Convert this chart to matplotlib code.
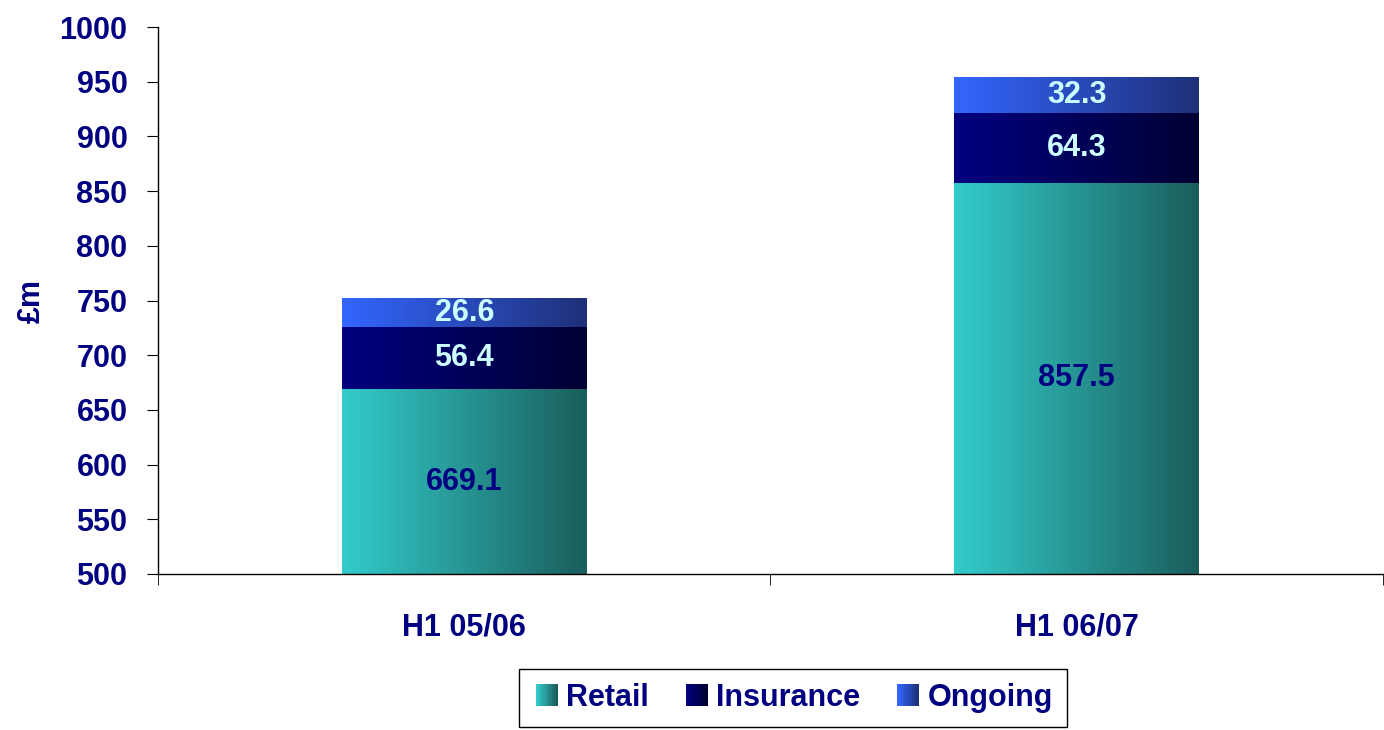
import numpy as np
import matplotlib.pyplot as plt
from matplotlib.colors import LinearSegmentedColormap
from matplotlib.legend_handler import HandlerBase
from matplotlib.patches import Rectangle

plt.rcParams['font.family'] = ['Liberation Sans', 'DejaVu Sans']
plt.rcParams['font.weight'] = 'bold'

periods = ["H1 05/06", "H1 06/07"]
segments = ["Retail", "Insurance", "Ongoing"]
retail = [669.1, 857.5]
insurance = [56.4, 64.3]
ongoing = [26.6, 32.3]

NAVY = "#000080"
# left -> right shading for each segment
gradients = {
    "Retail": ("#33CCCC", "#1A5E5C"),
    "Insurance": ("#000080", "#000033"),
    "Ongoing": ("#3366FF", "#1F3078"),
}
label_colors = {"Retail": NAVY, "Insurance": "#CCFFFF", "Ongoing": "#CCFFFF"}
FS = 22


def gradient_bar(ax, x, bottom, height, width, c0, c1):
    cmap = LinearSegmentedColormap.from_list("g", [c0, c1])
    grad = np.linspace(0, 1, 256).reshape(1, -1)
    extent = (x - width / 2, x + width / 2, bottom, bottom + height)
    im = ax.imshow(grad, cmap=cmap, extent=extent, aspect="auto",
                   interpolation="bilinear", zorder=2)
    rect = Rectangle((x - width / 2, bottom), width, height,
                     transform=ax.transData, fill=False, lw=0)
    ax.add_patch(rect)
    im.set_clip_path(rect)


class GradientHandler(HandlerBase):
    def __init__(self, c0, c1):
        super().__init__()
        self.c0, self.c1 = c0, c1

    def create_artists(self, legend, orig_handle, xdescent, ydescent,
                       width, height, fontsize, trans):
        cmap = LinearSegmentedColormap.from_list("g", [self.c0, self.c1])
        n = 12
        side = height
        x0 = width - side
        arts = []
        for i in range(n):
            r = Rectangle((x0 - xdescent + side * i / n, -ydescent), side / n + 0.3, side,
                          facecolor=cmap(i / (n - 1)), edgecolor="none", transform=trans)
            arts.append(r)
        return arts


fig = plt.figure(figsize=(13.84, 7.30), dpi=100)
ax = fig.add_axes([0.1142, 0.2137, 0.885, 0.7493])

x = np.arange(len(periods))
width = 0.4
stack = [("Retail", retail), ("Insurance", insurance), ("Ongoing", ongoing)]
bottoms = np.zeros(len(periods))
for name, vals in stack:
    c0, c1 = gradients[name]
    for i, v in enumerate(vals):
        b = bottoms[i] if bottoms[i] > 0 else 500.0
        top = bottoms[i] + v
        gradient_bar(ax, x[i], b, top - b, width, c0, c1)
        ax.text(x[i], (b + top) / 2, f"{v:.1f}", ha="center", va="center",
                fontsize=FS, fontweight="bold", color=label_colors[name], zorder=3)
    bottoms = bottoms + np.array(vals)

ax.set_xlim(-0.5, 1.5)
ax.set_ylim(500, 1000)
ax.set_yticks(np.arange(500, 1001, 50))
ax.set_xticks(x)
ax.set_xticklabels(periods)
ax.set_xticks([-0.5, 0.5, 1.5], minor=True)
ax.tick_params(axis="x", which="major", length=0, pad=28, labelsize=FS, labelcolor=NAVY)
ax.tick_params(axis="x", which="minor", length=8, direction="out")
ax.tick_params(axis="y", length=8, direction="out", pad=14, labelsize=FS, labelcolor=NAVY)
for lab in ax.get_xticklabels() + ax.get_yticklabels():
    lab.set_fontweight("bold")
for s in ("top", "right"):
    ax.spines[s].set_visible(False)
ax.spines["left"].set_linewidth(1.0)
ax.spines["bottom"].set_linewidth(1.0)
ax.set_ylabel("£m", fontsize=FS, fontweight="bold", color=NAVY, labelpad=9)

handles = [Rectangle((0, 0), 1, 1) for _ in segments]
handler_map = {h: GradientHandler(*gradients[n]) for h, n in zip(handles, segments)}
leg = fig.legend(handles, segments, handler_map=handler_map, loc="center",
                 bbox_to_anchor=(0.573, 0.044), ncol=3, frameon=True, fancybox=False,
                 edgecolor="black", framealpha=1, fontsize=FS, handlelength=0.8,
                 handleheight=0.7, handletextpad=0.3, columnspacing=1.1, borderpad=0.45)
leg.get_frame().set_linewidth(1.0)
for t in leg.get_texts():
    t.set_color(NAVY)
    t.set_fontweight("bold")

fig.savefig("out.png", dpi=100)
